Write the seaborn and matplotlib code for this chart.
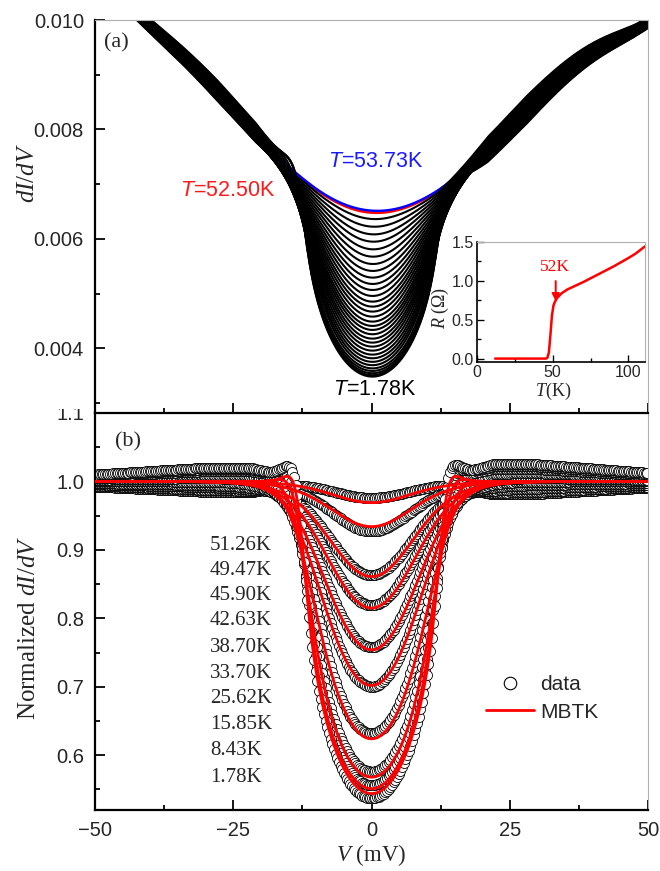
import numpy as np
import pandas as pd
import matplotlib
matplotlib.use("Agg")
import matplotlib.pyplot as plt
import seaborn as sns
from matplotlib.ticker import MultipleLocator, FixedLocator, FormatStrFormatter
from matplotlib.lines import Line2D
from matplotlib.patches import Rectangle

# ------------------------------------------------------------------
# Values
# ------------------------------------------------------------------
# (a) normal-state background dI/dV (T = 53.73 K) at read-off bias values (mV)
bg_V = [-50, -45, -41.1, -37.9, -31.9, -25.9, -19.9, -14.1, -7.5, 0, 1.5, 8.8, 13.6, 18.4, 24.4, 30.5, 36.5, 42.5, 48.6, 50]
bg_G = [0.01095, 0.01040, 0.01000, 0.00965, 0.00917, 0.00857, 0.00777, 0.00723, 0.00683, 0.006520, 0.006515,
        0.00668, 0.00705, 0.00735, 0.00802, 0.00862, 0.00915, 0.00956, 0.00989, 0.00996]

# (a) zero-bias dI/dV of every curve, from T = 53.73 K (top, blue) down to T = 1.78 K (bottom)
zb_top = [0.006517, 0.006481, 0.006365, 0.006225, 0.006085, 0.005951, 0.005811, 0.005677, 0.005543,
          0.005416, 0.005294, 0.005178, 0.005068, 0.004959, 0.004855, 0.004764, 0.004673, 0.004581,
          0.004490, 0.004411, 0.004338, 0.004259, 0.004179, 0.004106, 0.004033, 0.003960, 0.003887,
          0.003820, 0.003755, 0.003694, 0.003636, 0.003589, 0.003547, 0.003511, 0.003485]

# (b) normalized spectra
temps_b = [51.26, 49.47, 45.90, 42.63, 38.70, 33.70, 25.62, 15.85, 8.43, 1.78]
zb_data = [0.976, 0.927, 0.863, 0.819, 0.758, 0.700, 0.632, 0.576, 0.556, 0.537]
zb_fit = [0.969, 0.934, 0.861, 0.815, 0.754, 0.702, 0.624, 0.568, 0.551, 0.544]
bgdev_left = [-0.015, -0.012, -0.008, -0.005, 0.000, 0.005, 0.010, 0.015, 0.018, 0.020]
bgdev_right = [-0.018, -0.015, -0.010, -0.005, 0.000, 0.005, 0.012, 0.018, 0.022, 0.025]
temp_labels = ["51.26K", "49.47K", "45.90K", "42.63K", "38.70K", "33.70K", "25.62K", "15.85K", "8.43K", "1.78K"]

# inset R(T)
R_T = [12, 30, 45.5, 46.5, 47.5, 48.5, 49.5, 50.5, 51.5, 53, 56, 60, 70, 80, 90, 100, 105, 111]
R_ohm = [0.0, 0.0, 0.0, 0.01, 0.08, 0.30, 0.55, 0.68, 0.73, 0.78, 0.84, 0.89, 0.98, 1.08, 1.18, 1.29, 1.35, 1.44]

# ------------------------------------------------------------------
# Gap-spectrum model (semicircular gap, thermally smeared) used to draw
# dense curves through the read-off zero-bias values
# ------------------------------------------------------------------
dE = 0.1
E = np.round(np.arange(-100, 100 + dE / 2, dE), 6)
i0 = np.argmin(np.abs(E))
inV = (E >= -50 - 1e-9) & (E <= 50 + 1e-9)
V = E[inV]


def spectrum(T, g0, p_peak, Tc=54.0, D0=12.8, s0=1.0):
    D = D0 * np.tanh(1.74 * np.sqrt(max(Tc / T - 1.0, 1e-6)))
    S = np.sqrt(np.clip(1 - (E / D) ** 2, 0, None))
    P = np.exp(-0.5 * ((np.abs(E) - D - 1.8) / 1.3) ** 2)
    F = S - p_peak * P
    k0 = np.exp(-0.5 * (E / s0) ** 2)
    k0 /= k0.sum()
    kT = 0.08617 * T
    arg = np.clip(E / (2 * kT), -300, 300)
    kt = 1.0 / np.cosh(arg) ** 2
    kt /= kt.sum()
    h = np.convolve(np.convolve(F, k0, "same"), kt, "same")
    g = 1 - (1 - g0) * h / h[i0]
    return g[inV]


bg_poly = np.polynomial.Polynomial.fit(bg_V, bg_G, 9)
B = bg_poly(V)
B0 = bg_poly(0.0)

# temperature assigned to each curve of (a) from the depth/temperature pairs of (b)
g0_pairs = sorted(zip(zb_fit + [1.0], temps_b + [53.73]))
g0_sorted = [p[0] for p in g0_pairs]
T_sorted = [p[1] for p in g0_pairs]

rows = []
n_top = len(zb_top)
ramp = np.clip((np.abs(V) - 12) / 9, 0, 1) * (1 - 0.65 * np.clip((np.abs(V) - 28) / 20, 0, 1))
for i, zb in enumerate(zb_top):
    g0 = zb / zb_top[0]
    T = float(np.interp(g0, g0_sorted, T_sorted))
    if i == 0:
        T = 53.73
    g = spectrum(T, g0, 0.04) if g0 < 0.9999 else np.ones_like(V)
    if i < 2:
        c = 0.2
    else:
        c = 1 - 2 * (i - 2) / (n_top - 3)
    tilt = np.where(V > 0, 0.030, -0.021) * ramp * c
    y = B * (g + tilt) * zb_top[0] / B0
    name = "blue" if i == 0 else ("red" if i == 1 else "black")
    rows.append(pd.DataFrame({"V": V, "G": y, "curve": i, "kind": name}))
df_top = pd.concat(rows, ignore_index=True)

drows, frows = [], []
for j, T in enumerate(temps_b):
    gd = spectrum(T, zb_data[j], 0.05)
    gf = spectrum(T, zb_fit[j], 0.025)
    r = np.clip((np.abs(V) - 12) / 10, 0, 1) * (1 - 0.5 * np.clip((np.abs(V) - 30) / 20, 0, 1))
    gd = gd + np.where(V < 0, bgdev_left[j], bgdev_right[j]) * r
    drows.append(pd.DataFrame({"V": V[::3], "G": gd[::3], "T": T}))
    frows.append(pd.DataFrame({"V": V, "G": gf, "T": T}))
df_data = pd.concat(drows, ignore_index=True)
df_fit = pd.concat(frows, ignore_index=True)
df_R = pd.DataFrame({"T": R_T, "R": R_ohm})

# ------------------------------------------------------------------
# Figure
# ------------------------------------------------------------------
sns.set_theme(style="ticks")
plt.rcParams["font.family"] = ["Liberation Sans", "DejaVu Sans"]
plt.rcParams["mathtext.fontset"] = "custom"
plt.rcParams["mathtext.rm"] = "Liberation Serif"
plt.rcParams["mathtext.it"] = "Liberation Serif:italic"
plt.rcParams["mathtext.sf"] = "Liberation Sans:italic"
plt.rcParams["mathtext.bf"] = "Liberation Serif:bold"

SERIF = ["Liberation Serif", "DejaVu Serif"]
W, H = 660, 871
fig = plt.figure(figsize=(6.6, 8.71), dpi=100)


def fx(px):
    return px / W


def fy(py):
    return 1 - py / H


ax1 = fig.add_axes([fx(95), fy(413), fx(648) - fx(95), fy(20) - fy(413)])
ax2 = fig.add_axes([fx(95), fy(810), fx(648) - fx(95), fy(413) - fy(810)])
axin = fig.add_axes([fx(477), fy(361.7), fx(645) - fx(477), fy(241.7) - fy(361.7)])
ax1.set_zorder(3)
ax2.set_zorder(1)
axin.set_zorder(4)

# cover for the partly hidden "1.1" label
fig.patches.append(Rectangle((0, fy(409)), fx(95), fy(380) - fy(409), transform=fig.transFigure,
                             facecolor="white", edgecolor="none", zorder=2))


def style_axes(ax, lw=1.6, maj=7, mino=3.6):
    for s in ["left", "bottom"]:
        ax.spines[s].set_color("black")
        ax.spines[s].set_linewidth(lw)
    for s in ["top", "right"]:
        ax.spines[s].set_color("#b0b0b0")
        ax.spines[s].set_linewidth(0.8)
    ax.tick_params(which="both", direction="in", top=False, right=False, color="black")
    ax.tick_params(which="major", length=maj, width=lw * 0.8)
    ax.tick_params(which="minor", length=mino, width=lw * 0.8)


# ---- panel (a): normal-state curves first, the black family on top of them
sns.lineplot(data=df_top[df_top["kind"] == "red"], x="V", y="G", estimator=None, sort=False,
             color="#ff0000", lw=1.9, ax=ax1, legend=False)
sns.lineplot(data=df_top[df_top["kind"] == "blue"], x="V", y="G", estimator=None, sort=False,
             color="#0000ff", lw=1.7, ax=ax1, legend=False)
black = df_top[df_top["kind"] == "black"]
sns.lineplot(data=black, x="V", y="G", units="curve", estimator=None, sort=False,
             color="black", lw=1.5, ax=ax1, legend=False)
ax1.set_xlim(-50, 50)
ax1.set_ylim(0.00282, 0.010)
ax1.xaxis.set_major_locator(MultipleLocator(25))
ax1.xaxis.set_minor_locator(MultipleLocator(12.5))
ax1.yaxis.set_major_locator(FixedLocator([0.004, 0.006, 0.008, 0.010]))
ax1.yaxis.set_minor_locator(FixedLocator([0.003, 0.005, 0.007, 0.009]))
ax1.yaxis.set_major_formatter(FormatStrFormatter("%.3f"))
ax1.set_xticklabels([])
ax1.set_xlabel("")
ax1.set_ylabel("")
style_axes(ax1)
ax1.tick_params(axis="y", labelsize=14.5, pad=8)
ax1.text(fx(116), fy(43), "(a)", transform=fig.transFigure, fontsize=16, family=SERIF,
         ha="center", va="center")
ax1.text(-25.9, 0.006877, r"$\mathsf{T}$=52.50K", color="#ff1a1a", fontsize=15.5, ha="center", va="center")
ax1.text(0.8, 0.007406, r"$\mathsf{T}$=53.73K", color="#1a1aff", fontsize=15.5, ha="center", va="center")
ax1.text(0.6, 0.003242, r"$\mathsf{T}$=1.78K", color="black", fontsize=15.5, ha="center", va="center")

# ---- panel (b)
sns.scatterplot(data=df_data, x="V", y="G", marker="o", s=52, color="white", edgecolor="black",
                linewidth=0.6, ax=ax2, legend=False, zorder=2)
sns.lineplot(data=df_fit, x="V", y="G", units="T", estimator=None, sort=False,
             color="#ff0000", lw=2.0, ax=ax2, legend=False, zorder=3)
ax2.set_xlim(-50, 50)
ax2.set_ylim(0.52, 1.1)
ax2.xaxis.set_major_locator(MultipleLocator(25))
ax2.xaxis.set_minor_locator(MultipleLocator(12.5))
ax2.yaxis.set_major_locator(FixedLocator([0.6, 0.7, 0.8, 0.9, 1.0, 1.1]))
ax2.yaxis.set_minor_locator(FixedLocator([0.55, 0.65, 0.75, 0.85, 0.95, 1.05]))
ax2.yaxis.set_major_formatter(FormatStrFormatter("%.1f"))
ax2.set_xlabel("")
ax2.set_ylabel("")
style_axes(ax2)
ax2.spines["top"].set_visible(False)
ax2.tick_params(axis="both", labelsize=14.5, pad=8)
ax2.text(fx(128), fy(442), "(b)", transform=fig.transFigure, fontsize=16, family=SERIF,
         ha="center", va="center")
lab_y = [0.9068, 0.870, 0.8335, 0.7965, 0.757, 0.719, 0.6828, 0.6447, 0.6066, 0.567]
for lbl, yy in zip(temp_labels, lab_y):
    ax2.text(-29.2, yy, lbl, fontsize=15, family=SERIF, ha="left", va="center")
handles = [Line2D([], [], marker="o", ls="", mfc="white", mec="black", ms=9, mew=0.8),
           Line2D([], [], color="#ff0000", lw=2)]
ax2.legend(handles, ["data", "MBTK"], loc="upper left", bbox_to_anchor=(fx(486), fy(675)),
           bbox_transform=fig.transFigure, frameon=False, fontsize=15, borderpad=0, borderaxespad=0,
           handlelength=2.3, handletextpad=0.3, labelspacing=0.42)

# ---- inset
sns.lineplot(data=df_R, x="T", y="R", color="#ff0000", lw=1.8, ax=axin, legend=False, sort=False)
axin.set_xlim(0, 111)
axin.set_ylim(-0.04, 1.5)
axin.xaxis.set_major_locator(MultipleLocator(50))
axin.xaxis.set_minor_locator(MultipleLocator(25))
axin.yaxis.set_major_locator(MultipleLocator(0.5))
axin.yaxis.set_minor_locator(MultipleLocator(0.25))
axin.yaxis.set_major_formatter(FormatStrFormatter("%.1f"))
axin.set_xlabel("")
axin.set_ylabel("")
style_axes(axin, lw=1.2, maj=5, mino=3)
axin.tick_params(axis="both", labelsize=11.5, pad=2.5)
axin.annotate("", xy=(52, 0.70), xytext=(52, 1.03),
              arrowprops=dict(arrowstyle="-|>", color="#ff0000", lw=1.4, mutation_scale=11))
axin.text(51.8, 1.17, "52K", color="#ff0000", fontsize=12.5, family=SERIF, ha="center", va="center")

# ---- axis labels
fig.text(fx(27), fy(173), "$dI/dV$", rotation=90, fontsize=18, ha="center", va="center")
fig.text(fx(29), fy(628), "Normalized $dI/dV$", family=SERIF, rotation=90, fontsize=18,
         ha="center", va="center")
fig.text(fx(371.5), fy(855), "$V$ (mV)", family=SERIF, fontsize=16.5, ha="center", va="center")
fig.text(fx(553), fy(391), "$T$(K)", family=SERIF, fontsize=13, ha="center", va="center")
fig.text(fx(440), fy(308), "$R$ (Ω)", family=SERIF, fontsize=13, rotation=90, ha="center", va="center")

fig.savefig("out.png", dpi=100, facecolor="white")
